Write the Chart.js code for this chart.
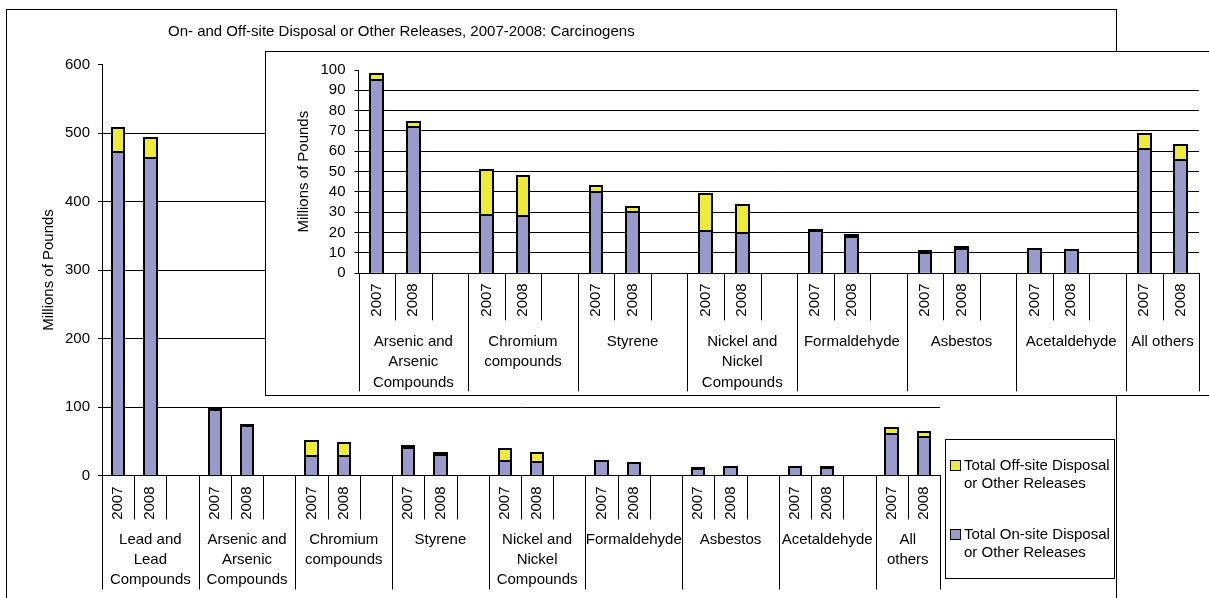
<!DOCTYPE html>
<html>
<head>
<meta charset="utf-8">
<script src="https://cdn.jsdelivr.net/npm/chart.js@4/dist/chart.umd.min.js"></script>
<style>
html,body{margin:0;padding:0;background:#fff;overflow:hidden;width:1209px;height:598px;}
#frame{position:absolute;left:6px;top:9px;width:1111px;height:700px;border:1px solid #000;box-sizing:border-box;}
#main{position:absolute;left:0;top:0;}
#insetBox{position:absolute;left:265px;top:51px;width:1000px;height:345px;border:1px solid #000;box-sizing:border-box;background:#fff;overflow:hidden;}
#inset{position:absolute;left:0;top:0;}
</style>
</head>
<body>
<div id="frame"></div>
<canvas id="main" width="1209" height="598"></canvas>
<div id="insetBox"><canvas id="inset" width="943" height="343"></canvas></div>
<script>
// ---------- data ----------
const chartTitle = 'On- and Off-site Disposal or Other Releases, 2007-2008: Carcinogens';
const yTitle = 'Millions of Pounds';
const seriesNames = ['Total On-site Disposal or Other Releases', 'Total Off-site Disposal or Other Releases'];
const groups = ['Lead and Lead Compounds', 'Arsenic and Arsenic Compounds', 'Chromium compounds', 'Styrene',
  'Nickel and Nickel Compounds', 'Formaldehyde', 'Asbestos', 'Acetaldehyde', 'All others'];
const years = ['2007', '2008'];
const onsite2007  = [472, 95.3, 28.9, 40.1, 20.7, 20.7, 9.8, 11.8, 61.0];
const onsite2008  = [463, 71.8, 28.4, 30.3, 19.6, 17.9, 12.0, 11.5, 55.9];
const offsite2007 = [35, 2.5, 22.1, 2.6, 18.1, 0.8, 1.0, 0.2, 7.7];
const offsite2008 = [30, 2.5, 19.6, 2.4, 13.8, 0.9, 1.1, 0.2, 7.2];
const mainTicks = [0, 100, 200, 300, 400, 500, 600];
const insetTicks = [0, 10, 20, 30, 40, 50, 60, 70, 80, 90, 100];
const colorOn = '#9999CC';
const colorOff = '#EEEA3A';

// ---------- setup ----------
const FONT = "'Liberation Sans', Arial, Helvetica, sans-serif";
Chart.defaults.font.family = FONT;
Chart.defaults.font.size = 15;
Chart.defaults.color = '#000';

function build(start) {
  const labels = [], on = [], off = [];
  for (let g = start; g < groups.length; g++) {
    labels.push(years[0], years[1]);
    on.push(onsite2007[g], onsite2008[g]);
    off.push(offsite2007[g], offsite2008[g]);
    if (g < groups.length - 1) { labels.push(''); on.push(null); off.push(null); }
  }
  return { labels, on, off, groups: groups.slice(start) };
}

function wrap(ctx, text, maxW) {
  const words = text.split(' '); const lines = []; let cur = '';
  for (const w of words) {
    const t = cur ? cur + ' ' + w : w;
    if (cur && ctx.measureText(t).width > maxW) { lines.push(cur); cur = w; } else cur = t;
  }
  if (cur) lines.push(cur);
  return lines;
}

// Excel-style outline centred on each bar segment's edges (positions from the bar elements)
const barOutline = {
  id: 'barOutline',
  afterDatasetsDraw(chart) {
    const ctx = chart.ctx;
    ctx.save();
    ctx.strokeStyle = '#000'; ctx.lineWidth = 2; ctx.lineJoin = 'miter';
    chart.data.datasets.forEach((ds, i) => {
      chart.getDatasetMeta(i).data.forEach((el, j) => {
        if (ds.data[j] == null) return;
        const p = el.getProps(['x', 'y', 'base', 'width'], true);
        const l = Math.round(p.x - p.width / 2), r = Math.round(p.x + p.width / 2);
        const t = Math.round(p.y), b = Math.round(p.base);
        ctx.beginPath();
        ctx.moveTo(l, b); ctx.lineTo(l, t); ctx.lineTo(r, t); ctx.lineTo(r, b);
        ctx.stroke();
      });
    });
    ctx.restore();
  }
};

function groupAxisPlugin(cfg) {
  return {
    id: 'groupAxis',
    afterDraw(chart) {
      const x = chart.scales.x, ctx = chart.ctx, n = chart.data.labels.length;
      const half = (x.getPixelForValue(1) - x.getPixelForValue(0)) / 2;
      const b = k => k < n ? x.getPixelForValue(k) - half : x.getPixelForValue(n - 1) + half;
      const y0 = x.top;
      ctx.save();
      ctx.strokeStyle = '#000'; ctx.lineWidth = 1;
      for (let k = 0; k <= n; k++) {
        const long = (k % 3 === 0) || k === n;
        const px = Math.round(b(k)) + 0.5;
        ctx.beginPath(); ctx.moveTo(px, y0); ctx.lineTo(px, y0 + (long ? cfg.longLen : cfg.shortLen)); ctx.stroke();
      }
      ctx.font = '15px ' + FONT; ctx.textAlign = 'center'; ctx.textBaseline = 'alphabetic'; ctx.fillStyle = '#000';
      cfg.groups.forEach((g, i) => {
        const l = b(3 * i), r = b(Math.min(3 * i + 3, n));
        wrap(ctx, g, r - l - 4).forEach((t, j) => ctx.fillText(t, (l + r) / 2, y0 + cfg.base + j * cfg.lineH));
      });
      ctx.restore();
    }
  };
}

const mainExtras = {
  id: 'mainExtras',
  afterDraw(chart) {
    const ctx = chart.ctx;
    ctx.save();
    ctx.fillStyle = '#000';
    ctx.font = '15px ' + FONT; ctx.textAlign = 'left'; ctx.textBaseline = 'alphabetic';
    ctx.fillText(chartTitle, 168, 36);
    // legend
    ctx.strokeStyle = '#000'; ctx.lineWidth = 1;
    ctx.strokeRect(945.5, 439.5, 169, 139);
    const tops = [460, 529];
    const order = [1, 0];
    order.forEach((di, i) => {
      const ds = chart.data.datasets[di];
      ctx.fillStyle = ds.backgroundColor;
      ctx.fillRect(950, tops[i], 10, 10);
      ctx.strokeRect(950.5, tops[i] + 0.5, 10, 10);
      ctx.fillStyle = '#000';
      wrap(ctx, ds.label, 152).forEach((t, j) => ctx.fillText(t, 964, tops[i] + 10 + j * 17.5));
    });
    ctx.restore();
  }
};

function makeChart(canvas, start, ticks, geo, plugins) {
  const d = build(start);
  const maxV = ticks[ticks.length - 1];
  return new Chart(canvas, {
    type: 'bar',
    data: {
      labels: d.labels,
      datasets: [
        { label: seriesNames[0], data: d.on, backgroundColor: colorOn, borderColor: '#000', borderWidth: 0 },
        { label: seriesNames[1], data: d.off, backgroundColor: colorOff, borderColor: '#000', borderWidth: 0 }
      ]
    },
    options: {
      responsive: false, animation: false, devicePixelRatio: 1,
      categoryPercentage: 1, barPercentage: geo.barPct,
      layout: { padding: { left: geo.padL, right: geo.padR, top: geo.padT, bottom: 0 } },
      plugins: { legend: { display: false }, title: { display: false }, tooltip: { enabled: false } },
      scales: {
        x: {
          stacked: true, offset: true,
          grid: { display: false, drawTicks: false },
          border: { display: true, color: '#000', width: 1 },
          ticks: { autoSkip: false, minRotation: 90, maxRotation: 90, padding: geo.labelPad, font: { size: 15 } },
          afterFit: s => { s.height = geo.xH; }
        },
        y: {
          stacked: true, min: 0, max: maxV,
          afterBuildTicks: s => { s.ticks = ticks.map(v => ({ value: v })); },
          grid: {
            color: c => (c.tick && (c.tick.value === maxV || c.tick.value === 0)) ? 'rgba(0,0,0,0)' : '#000',
            tickColor: '#000', tickLength: 4, drawTicks: true, lineWidth: 1
          },
          border: { display: true, color: '#000', width: 1 },
          ticks: { autoSkip: false, padding: geo.yPad, font: { size: 15 } },
          title: { display: true, text: yTitle, font: { size: 15 }, padding: { top: 4, bottom: 4 } },
          afterFit: s => { s.width = geo.yW; }
        }
      }
    },
    plugins: [barOutline, groupAxisPlugin({ groups: d.groups, shortLen: geo.shortLen, longLen: geo.longLen, base: geo.base, lineH: geo.lineH })].concat(plugins)
  });
}

makeChart(document.getElementById('main'), 0, mainTicks,
  { barPct: 0.385, padL: 36, padR: 269, padT: 64.5, xH: 122.5, yW: 66, labelPad: 11, yPad: 8,
    shortLen: 44, longLen: 114, base: 68.5, lineH: 20 }, [mainExtras]);

makeChart(document.getElementById('inset'), 1, insetTicks,
  { barPct: 0.35, padL: 25, padR: 9, padT: 13.7, xH: 121.7, yW: 67.5, labelPad: 10, yPad: 9,
    shortLen: 47, longLen: 118, base: 72.4, lineH: 20.5 }, []);
</script>
</body>
</html>
